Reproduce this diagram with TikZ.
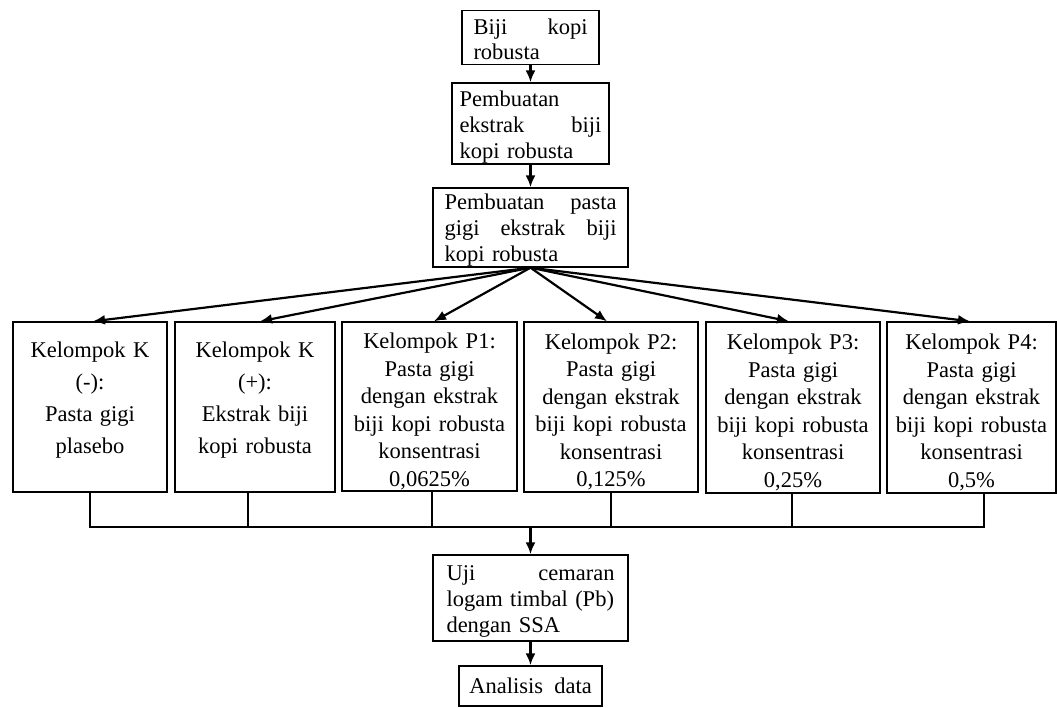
\documentclass[tikz,border=0pt]{standalone}
\usepackage{fontspec}
\setmainfont{Liberation Serif}
\usetikzlibrary{arrows.meta,calc}
\tikzset{
  box/.style={draw, line width=1.4pt, inner sep=0pt, rectangle},
  conn/.style={line width=2.2pt},
  arr/.style={line width=2.2pt, -{Latex[length=12pt,width=10pt]}},
}
\begin{document}
\begin{tikzpicture}[x=1pt,y=-1pt]
\useasboundingbox (0,0) rectangle (1057,707);
% top chain
\node[box, minimum width=137pt, minimum height=53.5pt, text width=114pt, align=left,
  font={\fontsize{22.5}{25}\selectfont}] (b1) at (530.5,37.5) {Biji\hfill kopi\\robusta\par\kern-4pt};
\node[box, minimum width=157pt, minimum height=81pt, text width=142pt, align=left,
  font={\fontsize{22.5}{26.2}\selectfont}] (b2) at (530.5,123.5) {Pembuatan\\ekstrak\hfill biji\\kopi robusta\par\kern-7pt};
\node[box, minimum width=195pt, minimum height=79pt, text width=172pt, align=left,
  font={\fontsize{22.5}{26}\selectfont}] (b3) at (530.5,227.5) {Pembuatan\hfill pasta\\gigi\hfill ekstrak\hfill biji\\kopi robusta\par\kern-6pt};
% groups
\node[box, minimum width=154pt, minimum height=170pt, text width=150pt, align=center,
  font={\fontsize{22.5}{32}\selectfont}] (K1) at (90,407) {Kelompok K\\(-):\\Pasta gigi\\plasebo\par\kern14pt};
\node[box, minimum width=160pt, minimum height=170pt, text width=156pt, align=center,
  font={\fontsize{22.5}{32}\selectfont}] (K2) at (255,407) {Kelompok K\\(+):\\Ekstrak biji\\kopi robusta\par\kern14pt};
\node[box, minimum width=175pt, minimum height=169pt, text width=171pt, align=center,
  font={\fontsize{22.5}{27.5}\selectfont}] (P1) at (429.5,406.5) {Kelompok P1:\\Pasta gigi\\dengan ekstrak\\biji kopi robusta\\konsentrasi\\0,0625\%\par\kern-10pt};
\node[box, minimum width=174pt, minimum height=170pt, text width=170pt, align=center,
  font={\fontsize{22.5}{27.5}\selectfont}] (P2) at (611,407) {Kelompok P2:\\Pasta gigi\\dengan ekstrak\\biji kopi robusta\\konsentrasi\\0,125\%\par\kern-10pt};
\node[box, minimum width=174pt, minimum height=171pt, text width=170pt, align=center,
  font={\fontsize{22.5}{27.5}\selectfont}] (P3) at (793,407.5) {Kelompok P3:\\Pasta gigi\\dengan ekstrak\\biji kopi robusta\\konsentrasi\\0,25\%\par\kern-10pt};
\node[box, minimum width=169pt, minimum height=171pt, text width=165pt, align=center,
  font={\fontsize{22.5}{27.5}\selectfont}] (P4) at (971.5,407.5) {Kelompok P4:\\Pasta gigi\\dengan ekstrak\\biji kopi robusta\\konsentrasi\\0,5\%\par\kern-10pt};
% bottom
\node[box, minimum width=195pt, minimum height=86pt, text width=168pt, align=left,
  font={\fontsize{22.5}{26.4}\selectfont}] (uji) at (530.5,598) {Uji\hfill cemaran\\logam timbal (Pb)\\dengan SSA\par\kern-7pt};
\node[box, minimum width=143pt, minimum height=40pt, align=center,
  font={\fontsize{22.5}{26}\selectfont}] (ana) at (530.5,686) {Analisis\ \ data};
% vertical arrows
\draw[arr] (b1.south) -- (b2.north);
\draw[arr] (b2.south) -- (b3.north);
% fan
\draw[arr] (b3.south) -- ([xshift=3pt]K1.north);
\draw[arr] (b3.south) -- ([xshift=5pt]K2.north);
\draw[arr] (b3.south) -- ([xshift=4.5pt]P1.north);
\draw[arr] (b3.south) -- ([xshift=-4pt]P2.north);
\draw[arr] (b3.south) -- ([xshift=-4pt]P3.north);
\draw[arr] (b3.south) -- ([xshift=-1.5pt]P4.north);
% bus
\coordinate (bus) at (530.5,527);
\coordinate (busL) at (90,527);
\coordinate (busR) at (984,527);
\draw[conn] (K1.south) -- (K1.south |- busL);
\draw[conn] ([xshift=-7pt]K2.south) -- ([xshift=-7pt]K2.south |- busL);
\draw[conn] ([xshift=2.5pt]P1.south) -- ([xshift=2.5pt]P1.south |- busL);
\draw[conn] (P2.south) -- (P2.south |- busL);
\draw[conn] ([xshift=-1pt]P3.south) -- ([xshift=-1pt]P3.south |- busL);
\draw[conn] ([xshift=12.5pt]P4.south) -- (busR);
\draw[conn, line cap=rect] (busL) -- (busR);
\draw[arr] (bus) -- (uji.north);
\draw[arr] (uji.south) -- (ana.north);
\end{tikzpicture}
\end{document}
